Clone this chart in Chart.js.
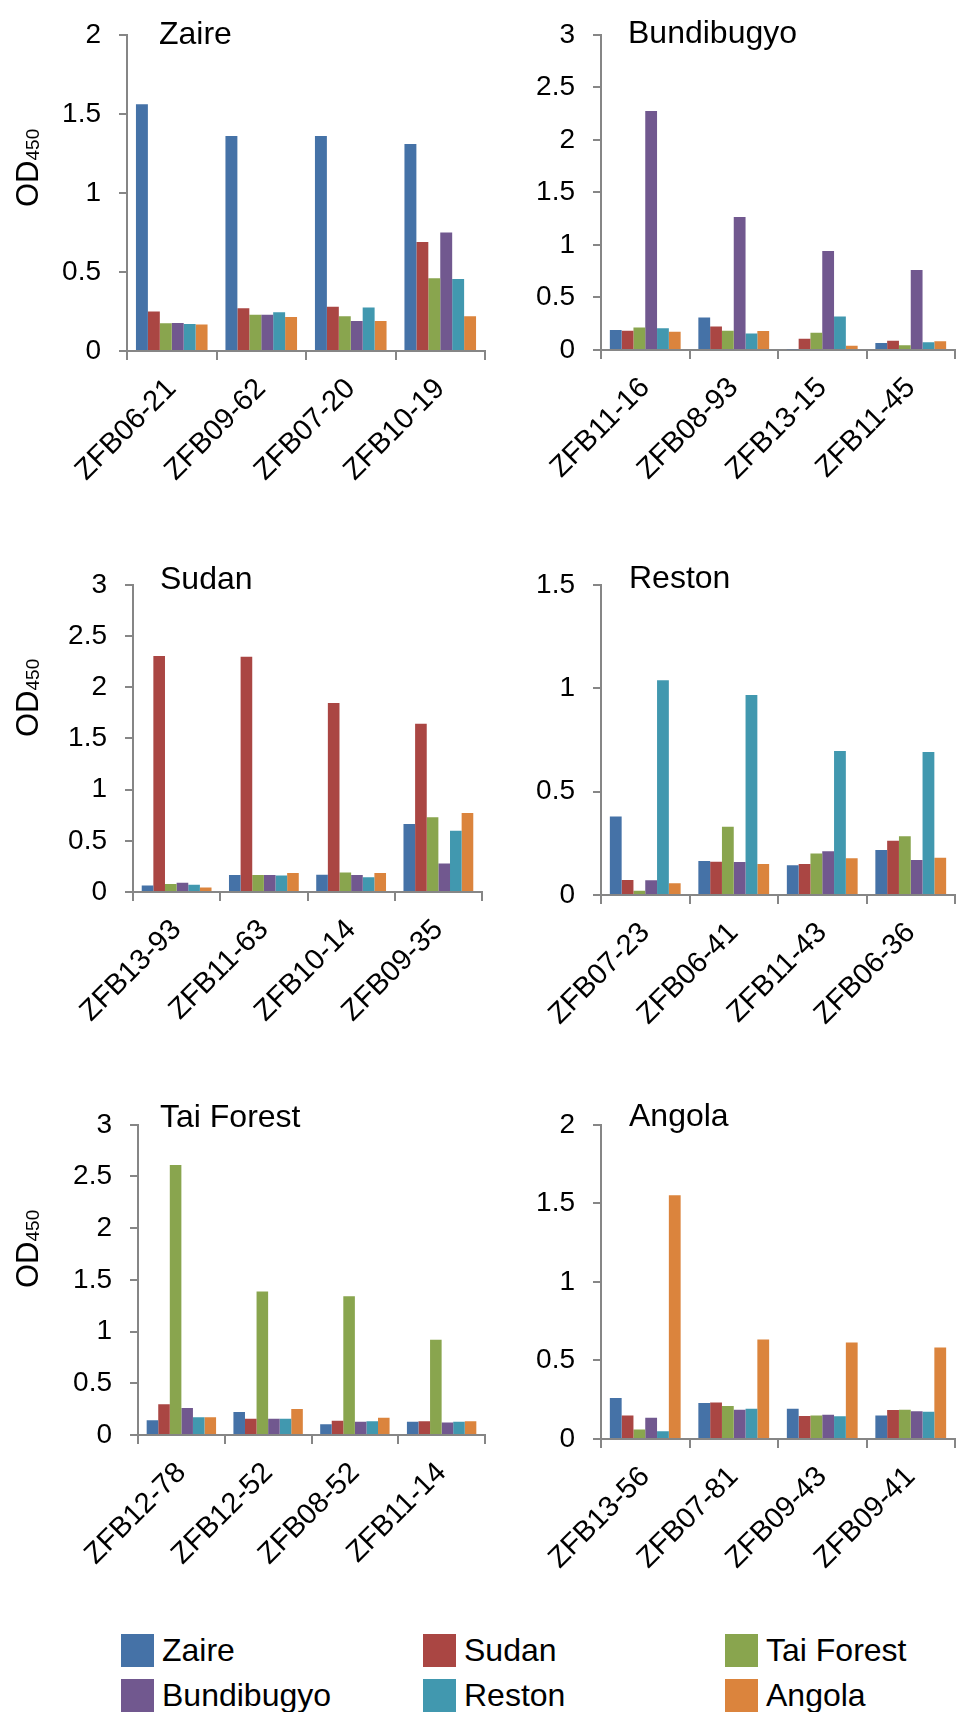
<!DOCTYPE html>
<html>
<head>
<meta charset="utf-8">
<script src="https://cdn.jsdelivr.net/npm/chart.js@4.4.1/dist/chart.umd.min.js"></script>
<style>
    html, body { margin: 0; padding: 0; background: #fff; }
    body { width: 956px; height: 1712px; position: relative; overflow: hidden; font-family: "Liberation Sans", Arial, sans-serif; }
    canvas { position: absolute; }
    .legend-item { position: absolute; display: flex; align-items: center; font-size: 32px; color: #000; line-height: 33px; }
    .swatch { width: 33px; height: 33px; margin-right: 8px; }
</style>
</head>
<body>
<div id="legend"></div>
<script>
const seriesNames = ['Zaire', 'Sudan', 'Tai Forest', 'Bundibugyo', 'Reston', 'Angola'];
const seriesColors = ['#4572A7', '#AA4643', '#89A54E', '#71588F', '#4198AF', '#DB843D'];

// each row is one series (Zaire, Sudan, Tai Forest, Bundibugyo, Reston, Angola)
const zaireLabels = ['ZFB06-21', 'ZFB09-62', 'ZFB07-20', 'ZFB10-19'];
const zaireValues = [
    [1.56, 1.36, 1.36, 1.31],
    [0.25, 0.27, 0.28, 0.69],
    [0.175, 0.23, 0.22, 0.46],
    [0.177, 0.23, 0.19, 0.75],
    [0.17, 0.245, 0.275, 0.455],
    [0.167, 0.215, 0.19, 0.22]
];

const bundiLabels = ['ZFB11-16', 'ZFB08-93', 'ZFB13-15', 'ZFB11-45'];
const bundiValues = [
    [0.19, 0.31, 0.006, 0.067],
    [0.184, 0.223, 0.107, 0.089],
    [0.214, 0.184, 0.165, 0.046],
    [2.274, 1.267, 0.943, 0.762],
    [0.208, 0.156, 0.318, 0.073],
    [0.174, 0.18, 0.04, 0.083]
];

const sudanLabels = ['ZFB13-93', 'ZFB11-63', 'ZFB10-14', 'ZFB09-35'];
const sudanValues = [
    [0.063, 0.166, 0.169, 0.665],
    [2.304, 2.298, 1.846, 1.643],
    [0.078, 0.166, 0.191, 0.73],
    [0.091, 0.166, 0.166, 0.279],
    [0.072, 0.16, 0.144, 0.599],
    [0.044, 0.185, 0.185, 0.771]
];

const restonLabels = ['ZFB07-23', 'ZFB06-41', 'ZFB11-43', 'ZFB06-36'];
const restonValues = [
    [0.38, 0.164, 0.144, 0.217],
    [0.073, 0.161, 0.15, 0.262],
    [0.02, 0.33, 0.201, 0.284],
    [0.071, 0.16, 0.211, 0.169],
    [1.038, 0.967, 0.696, 0.691],
    [0.057, 0.15, 0.178, 0.18]
];

const taiLabels = ['ZFB12-78', 'ZFB12-52', 'ZFB08-52', 'ZFB11-14'];
const taiValues = [
    [0.143, 0.223, 0.105, 0.127],
    [0.298, 0.158, 0.139, 0.133],
    [2.612, 1.387, 1.343, 0.921],
    [0.261, 0.158, 0.127, 0.121],
    [0.171, 0.158, 0.133, 0.127],
    [0.171, 0.251, 0.167, 0.133]
];

const angolaLabels = ['ZFB13-56', 'ZFB07-81', 'ZFB09-43', 'ZFB09-41'];
const angolaValues = [
    [0.261, 0.229, 0.192, 0.149],
    [0.149, 0.233, 0.147, 0.184],
    [0.061, 0.21, 0.149, 0.186],
    [0.135, 0.186, 0.155, 0.176],
    [0.049, 0.192, 0.145, 0.174],
    [1.551, 0.633, 0.614, 0.582]
];

const FONT = '"Liberation Sans", Arial, sans-serif';
const axisColor = '#868686';

// layout of each panel, in page pixels
const panels = [
    { title: 'Zaire', labels: zaireLabels, values: zaireValues, yMax: 2,
      left: 0, width: 490, plotLeft: 127, plotRight: 485, plotTop: 23, plotBottom: 351, titleX: 159, titleY: 44, odY: 207 },
    { title: 'Bundibugyo', labels: bundiLabels, values: bundiValues, yMax: 3,
      left: 478, width: 478, plotLeft: 601, plotRight: 955, plotTop: 23, plotBottom: 350, titleX: 628, titleY: 43 },
    { title: 'Sudan', labels: sudanLabels, values: sudanValues, yMax: 3,
      left: 0, width: 490, plotLeft: 133, plotRight: 482, plotTop: 573, plotBottom: 892, titleX: 160, titleY: 589, odY: 737 },
    { title: 'Reston', labels: restonLabels, values: restonValues, yMax: 1.5,
      left: 478, width: 478, plotLeft: 601, plotRight: 955, plotTop: 573, plotBottom: 895, titleX: 629, titleY: 588 },
    { title: 'Tai Forest', labels: taiLabels, values: taiValues, yMax: 3,
      left: 0, width: 490, plotLeft: 138, plotRight: 485, plotTop: 1113, plotBottom: 1435, titleX: 160, titleY: 1127, odY: 1288 },
    { title: 'Angola', labels: angolaLabels, values: angolaValues, yMax: 2,
      left: 478, width: 478, plotLeft: 601, plotRight: 955, plotTop: 1113, plotBottom: 1439, titleX: 629, titleY: 1126 }
];

// draws the panel name inside the plot and the OD450 axis title
const panelText = {
    id: 'panelText',
    afterDraw(chart, args, opts) {
        const ctx = chart.ctx;
        ctx.save();
        ctx.fillStyle = '#000';
        ctx.textBaseline = 'alphabetic';
        ctx.textAlign = 'left';
        ctx.font = '32px ' + FONT;
        ctx.fillText(opts.title, opts.titleX, opts.titleY);
        if (opts.odY != null) {
            ctx.translate(38, opts.odY);
            ctx.rotate(-Math.PI / 2);
            ctx.font = '31px ' + FONT;
            ctx.fillText('OD', 0, 0);
            const w = ctx.measureText('OD').width;
            ctx.font = '19px ' + FONT;
            ctx.fillText('450', w, 1);
        }
        ctx.restore();
    }
};

panels.forEach(p => {
    const padTop = 23;
    const xHeight = 150;
    const canvasTop = p.plotTop - padTop;
    const height = padTop + (p.plotBottom - p.plotTop) + xHeight;
    const yWidth = p.plotLeft - p.left;
    const padRight = p.left + p.width - p.plotRight;

    const canvas = document.createElement('canvas');
    canvas.width = p.width;
    canvas.height = height;
    canvas.style.left = p.left + 'px';
    canvas.style.top = canvasTop + 'px';
    document.body.appendChild(canvas);

    new Chart(canvas, {
        type: 'bar',
        data: {
            labels: p.labels,
            datasets: seriesNames.map((name, i) => ({
                label: name,
                data: p.values[i],
                backgroundColor: seriesColors[i],
                borderWidth: 0
            }))
        },
        options: {
            responsive: false,
            animation: false,
            devicePixelRatio: 1,
            layout: { padding: { top: padTop, left: 0, right: padRight, bottom: 0 } },
            datasets: { bar: { barPercentage: 1, categoryPercentage: 0.8 } },
            plugins: {
                legend: { display: false },
                tooltip: { enabled: false },
                panelText: {
                    title: p.title,
                    titleX: p.titleX - p.left,
                    titleY: p.titleY - canvasTop,
                    odY: p.odY != null ? p.odY - canvasTop : null
                }
            },
            scales: {
                x: {
                    grid: { drawOnChartArea: false, drawTicks: true, tickLength: 9, color: axisColor, lineWidth: 2, offset: true },
                    border: { color: axisColor, width: 2 },
                    ticks: { autoSkip: false, minRotation: 45, maxRotation: 45, color: '#000', font: { family: FONT, size: 29 }, padding: 12 },
                    afterFit: s => { s.height = xHeight; }
                },
                y: {
                    min: 0,
                    max: p.yMax,
                    ticks: {
                        stepSize: 0.5,
                        color: '#000',
                        font: { family: FONT, size: 28 },
                        padding: 18,
                        callback: v => String(Math.round(v * 10) / 10)
                    },
                    grid: { drawOnChartArea: false, drawTicks: true, tickLength: 8, color: axisColor, lineWidth: 2 },
                    border: { color: axisColor, width: 2 },
                    afterFit: s => { s.width = yWidth; }
                }
            }
        },
        plugins: [panelText]
    });
});

// legend, three columns by two rows
const legendCols = [121, 423, 725];
const legendRows = [1634, 1679];
const legend = document.getElementById('legend');
seriesNames.forEach((name, i) => {
    const item = document.createElement('div');
    item.className = 'legend-item';
    item.style.left = legendCols[i % 3] + 'px';
    item.style.top = legendRows[Math.floor(i / 3)] + 'px';
    item.innerHTML = '<div class="swatch" style="background:' + seriesColors[i] + '"></div><span>' + name + '</span>';
    legend.appendChild(item);
});
</script>
</body>
</html>
